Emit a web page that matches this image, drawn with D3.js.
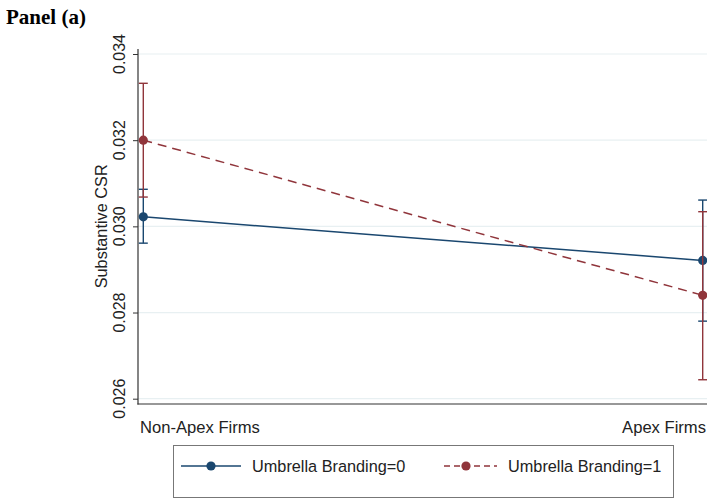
<!DOCTYPE html>
<html><head><meta charset="utf-8">
<script src="https://cdn.jsdelivr.net/npm/d3@7"></script>
<style>body{margin:0;background:#fff}svg{display:block}</style>
</head><body>
<script>
const categories = ["Non-Apex Firms", "Apex Firms"];
const seriesNames = ["Umbrella Branding=0", "Umbrella Branding=1"];
const est0 = [0.03022, 0.02921];
const lo0 = [0.02961, 0.02780];
const hi0 = [0.03086, 0.03061];
const est1 = [0.03200, 0.02840];
const lo1 = [0.03068, 0.02644];
const hi1 = [0.03332, 0.03034];
const yTicks = [0.026, 0.028, 0.030, 0.032, 0.034];

const W = 707, H = 498;
const svg = d3.select("body").append("svg").attr("width", W).attr("height", H);
const font = "'Liberation Sans', Arial, sans-serif";
const colors = ["#1a476f", "#90353b"];

const y = d3.scaleLinear().domain([0.026, 0.034]).range([398.7, 54]);
const x = d3.scalePoint().domain(categories).range([143.3, 702.7]);

svg.append("text").attr("x", 6).attr("y", 24)
  .attr("font-family", "'Liberation Serif', 'Times New Roman', serif")
  .attr("font-weight", "bold").attr("font-size", 21).text("Panel (a)");

// gridlines
svg.append("g").selectAll("line").data(yTicks).join("line")
  .attr("x1", 138).attr("x2", W).attr("y1", d => y(d)).attr("y2", d => y(d))
  .attr("stroke", "#e8f0f2").attr("stroke-width", 1.2);

// y axis
const yAxis = d3.axisLeft(y).tickValues(yTicks).tickSize(5).tickFormat(d3.format(".3f"));
const gy = svg.append("g").attr("transform", "translate(138,0)").call(yAxis);
gy.select(".domain").remove();
gy.selectAll(".tick line").attr("stroke", "#333");
gy.selectAll(".tick text").remove();
svg.append("line").attr("x1", 138).attr("x2", 138).attr("y1", 49).attr("y2", 404.5).attr("stroke", "#333").attr("stroke-width", 1.2);
svg.append("line").attr("x1", 137.4).attr("x2", W).attr("y1", 404).attr("y2", 404).attr("stroke", "#333").attr("stroke-width", 1.2);
svg.append("g").selectAll("text").data(yTicks).join("text")
  .attr("transform", d => `translate(124.5,${y(d)}) rotate(-90)`)
  .attr("text-anchor", "middle").attr("font-family", font).attr("font-size", 16)
  .attr("fill", "#222").text(d => d3.format(".3f")(d));

svg.append("text").attr("transform", `translate(107,${(y(0.026)+y(0.034))/2}) rotate(-90)`)
  .attr("text-anchor", "middle").attr("font-family", font).attr("font-size", 16.3)
  .attr("fill", "#222").text("Substantive CSR");

// x labels
svg.append("text").attr("x", 140).attr("y", 433).attr("font-family", font).attr("font-size", 16.6)
  .attr("fill", "#222").text(categories[0]);
svg.append("text").attr("x", 706).attr("y", 433).attr("text-anchor", "end").attr("font-family", font).attr("font-size", 16.6)
  .attr("fill", "#222").text(categories[1]);

const series = [
  {est: est0, lo: lo0, hi: hi0, color: colors[0], dash: null, ldash: null},
  {est: est1, lo: lo1, hi: hi1, color: colors[1], dash: "9,6", ldash: "6,4"}
];
const line = d3.line().x(d => x(d.c)).y(d => y(d.v));
series.forEach(s => {
  const pts = categories.map((c, i) => ({c, v: s.est[i], lo: s.lo[i], hi: s.hi[i]}));
  const g = svg.append("g");
  g.selectAll("line.ci").data(pts).join("line").attr("class", "ci")
    .attr("x1", d => x(d.c)).attr("x2", d => x(d.c)).attr("y1", d => y(d.lo)).attr("y2", d => y(d.hi))
    .attr("stroke", s.color).attr("stroke-width", 1.4);
  ["lo", "hi"].forEach(k => {
    g.selectAll("line.cap" + k).data(pts).join("line").attr("class", "cap" + k)
      .attr("x1", d => x(d.c) - 4.5).attr("x2", d => x(d.c) + 4.5)
      .attr("y1", d => y(d[k])).attr("y2", d => y(d[k]))
      .attr("stroke", s.color).attr("stroke-width", 1.4);
  });
  g.append("path").datum(pts).attr("d", line).attr("fill", "none")
    .attr("stroke", s.color).attr("stroke-width", 1.5).attr("stroke-dasharray", s.dash);
  g.selectAll("circle").data(pts).join("circle")
    .attr("cx", d => x(d.c)).attr("cy", d => y(d.v)).attr("r", 4.6).attr("fill", s.color);
});

// legend
svg.append("rect").attr("x", 173.5).attr("y", 445.5).attr("width", 500).attr("height", 52)
  .attr("fill", "#fff").attr("stroke", "#777").attr("stroke-width", 1);
const ly = 466;
const leg = [{x1: 181, x2: 241, mx: 211, tx: 252}, {x1: 444, x2: 497, mx: 466, tx: 508}];
leg.forEach((l, i) => {
  svg.append("line").attr("x1", l.x1).attr("x2", l.x2).attr("y1", ly).attr("y2", ly)
    .attr("stroke", series[i].color).attr("stroke-width", 1.5).attr("stroke-dasharray", series[i].ldash);
  svg.append("circle").attr("cx", l.mx).attr("cy", ly).attr("r", 4.6).attr("fill", series[i].color);
  svg.append("text").attr("x", l.tx).attr("y", ly + 6).attr("font-family", font).attr("font-size", 16.3)
    .attr("fill", "#222").text(seriesNames[i]);
});
</script>
</body></html>
